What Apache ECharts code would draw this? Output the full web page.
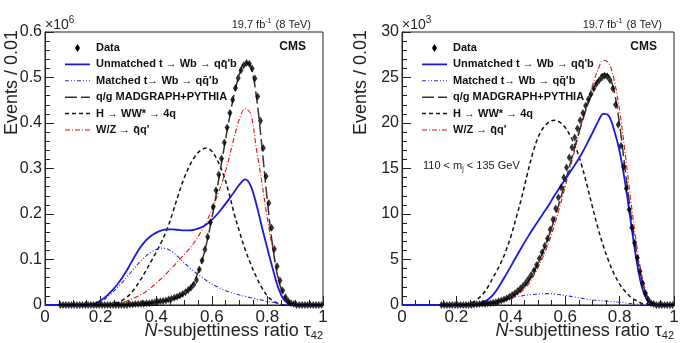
<!DOCTYPE html>
<html>
<head>
<meta charset="utf-8">
<script src="https://cdn.jsdelivr.net/npm/echarts@6/dist/echarts.min.js"></script>
<style>
  html, body { margin: 0; padding: 0; background: #fff; }
  #chart { width: 682px; height: 343px; }
</style>
</head>
<body>
<div id="chart"></div>
<script>
// ---- values ----
// data: one value per 0.01 bin (null = bin not drawn)
// curves: one value every 0.02 in tau (0 .. 1)

// left panel, x10^6
var dataL = [
  null, null, null, null, null, 0, 0, 0, 0, 0,
  0, 0, 0, 0, 0, 0, 0, 0, 0, 0,
  0, 0, 0, 0, 0, 0, 0, 0, 0, 0,
  0.001, 0.001, 0.002, 0.002, 0.003, 0.003, 0.004, 0.004, 0.005, 0.006,
  0.007, 0.008, 0.009, 0.010, 0.012, 0.014, 0.016, 0.018, 0.021, 0.024,
  0.028, 0.033, 0.038, 0.045, 0.055, 0.078, 0.098, 0.122, 0.150, 0.182,
  0.216, 0.252, 0.287, 0.322, 0.357, 0.390, 0.422, 0.451, 0.477, 0.499,
  0.516, 0.527, 0.532, 0.530, 0.520, 0.498, 0.458, 0.405, 0.345, 0.283,
  0.224, 0.170, 0.123, 0.085, 0.054, 0.032, 0.017, 0.008, 0.004, 0.002,
  0, 0, 0, 0, 0, 0, 0, 0, 0, 0
];
var unmatchedL = [
  0, 0, 0, 0, 0, 0, 0, 0, 0.001, 0.003,
  0.010, 0.019, 0.031, 0.045, 0.062, 0.082, 0.104, 0.124, 0.140, 0.151,
  0.159, 0.164, 0.166, 0.166, 0.165, 0.164, 0.164, 0.166, 0.170, 0.177,
  0.187, 0.200, 0.215, 0.231, 0.248, 0.265, 0.276, 0.262, 0.222, 0.172,
  0.124, 0.078, 0.036, 0.011, 0.002, 0, 0, 0, 0, 0, 0
];
var matchedL = [
  0, 0, 0, 0, 0, 0, 0, 0, 0, 0.002,
  0.007, 0.015, 0.026, 0.038, 0.051, 0.065, 0.080, 0.094, 0.106, 0.116,
  0.122, 0.125, 0.123, 0.116, 0.105, 0.093, 0.082, 0.072, 0.063, 0.054,
  0.046, 0.040, 0.034, 0.029, 0.025, 0.022, 0.019, 0.016, 0.013, 0.011,
  0.008, 0.006, 0.003, 0.001, 0, 0, 0, 0, 0, 0, 0
];
var qgL = [
  0, 0, 0, 0, 0, 0, 0, 0, 0, 0,
  0, 0, 0, 0, 0, 0.001, 0.002, 0.003, 0.004, 0.005,
  0.006, 0.008, 0.010, 0.013, 0.017, 0.024, 0.036, 0.056, 0.088, 0.132,
  0.190, 0.258, 0.330, 0.400, 0.462, 0.508, 0.534, 0.524, 0.460, 0.350,
  0.228, 0.125, 0.055, 0.020, 0.006, 0.001, 0, 0, 0, 0, 0
];
var hwwL = [
  0, 0, 0, 0, 0, 0, 0, 0, 0, 0,
  0, 0, 0.002, 0.005, 0.011, 0.020, 0.034, 0.052, 0.072, 0.094,
  0.116, 0.140, 0.168, 0.204, 0.243, 0.278, 0.306, 0.327, 0.340, 0.345,
  0.338, 0.318, 0.290, 0.250, 0.202, 0.160, 0.122, 0.090, 0.062, 0.038,
  0.020, 0.009, 0.003, 0, 0, 0, 0, 0, 0, 0, 0
];
var wzL = [
  0, 0, 0, 0, 0, 0, 0, 0, 0, 0,
  0, 0, 0, 0.003, 0.006, 0.010, 0.015, 0.021, 0.028, 0.037,
  0.048, 0.059, 0.071, 0.084, 0.097, 0.110, 0.124, 0.140, 0.160, 0.182,
  0.210, 0.240, 0.275, 0.318, 0.367, 0.410, 0.432, 0.420, 0.345, 0.270,
  0.190, 0.120, 0.058, 0.022, 0.008, 0.002, 0, 0, 0, 0, 0
];

// right panel, x10^3, 110 < mj < 135 GeV
var dataR = [
  null, null, null, null, null, null, null, null, null, null,
  null, null, null, null, 0, 0, 0, 0, 0, 0,
  0, 0, 0, 0, 0, 0, 0.05, 0.08, 0.1, 0.13,
  0.15, 0.18, 0.2, 0.25, 0.3, 0.4, 0.5, 0.6, 0.75, 0.9,
  1.1, 1.3, 1.55, 1.8, 2.1, 2.45, 2.85, 3.3, 3.8, 4.4,
  5.1, 5.8, 6.5, 7.3, 8.3, 9.4, 10.6, 11.8, 12.9, 14.0,
  15.1, 16.2, 17.3, 18.4, 19.4, 20.3, 21.1, 21.9, 22.6, 23.2,
  23.8, 24.3, 24.7, 25.0, 25.2, 25.1, 24.7, 23.8, 22.0, 19.8,
  17.5, 15.2, 12.8, 10.5, 8.5, 6.8, 5.2, 3.7, 2.4, 1.3,
  0.6, 0.2, 0.1, 0, 0, 0, 0, 0, 0, 0
];
var unmatchedR = [
  0, 0, 0, 0, 0, 0, 0, 0, 0, 0,
  0, 0, 0, 0, 0.1, 0.3, 0.7, 1.3, 2.2, 3.2,
  4.25, 5.3, 6.35, 7.35, 8.3, 9.2, 10.1, 11.0, 12.0, 12.9,
  13.8, 14.7, 15.6, 16.6, 17.7, 18.9, 20.1, 21.0, 20.8, 19.2,
  16.9, 13.5, 9.4, 5.3, 2.2, 0.6, 0.1, 0, 0, 0, 0
];
var matchedR = [
  0, 0, 0, 0, 0, 0, 0, 0, 0, 0,
  0, 0, 0, 0.05, 0.1, 0.15, 0.25, 0.35, 0.5, 0.6,
  0.75, 0.9, 1.0, 1.1, 1.15, 1.2, 1.25, 1.25, 1.2, 1.15,
  1.05, 0.95, 0.85, 0.75, 0.65, 0.55, 0.5, 0.45, 0.4, 0.35,
  0.3, 0.25, 0.15, 0.1, 0.05, 0, 0, 0, 0, 0, 0
];
var qgR = [
  0, 0, 0, 0, 0, 0, 0, 0, 0, 0,
  0, 0, 0, 0, 0.05, 0.1, 0.2, 0.3, 0.4, 0.6,
  0.9, 1.2, 1.7, 2.4, 3.4, 4.6, 6.0, 7.6, 9.4, 11.4,
  13.5, 15.7, 17.9, 19.9, 21.8, 23.4, 24.7, 25.4, 25.2, 23.5,
  19.8, 15.0, 10.3, 6.2, 3.0, 1.0, 0.3, 0, 0, 0, 0
];
var hwwR = [
  0, 0, 0, 0, 0, 0, 0, 0, 0, 0,
  0, 0.05, 0.1, 0.3, 0.7, 1.3, 2.2, 3.3, 4.4, 5.8,
  7.5, 9.6, 11.8, 14.3, 16.6, 18.4, 19.5, 20.1, 20.3, 20.1,
  19.5, 18.5, 17.2, 15.4, 13.2, 10.8, 8.5, 6.5, 4.8, 3.4,
  2.3, 1.5, 0.9, 0.5, 0.2, 0.1, 0, 0, 0, 0, 0
];
var wzR = [
  0, 0, 0, 0, 0, 0, 0, 0, 0, 0,
  0, 0, 0, 0, 0.05, 0.1, 0.15, 0.2, 0.3, 0.5,
  0.7, 1.0, 1.5, 2.1, 3.0, 4.1, 5.4, 6.9, 8.7, 10.8,
  13.0, 15.3, 17.6, 19.9, 22.1, 24.1, 25.8, 26.9, 26.6, 24.7,
  21.4, 16.8, 11.8, 7.2, 3.5, 1.1, 0.2, 0, 0, 0, 0
];

var xTicks = [0, 0.2, 0.4, 0.6, 0.8, 1];
var yTicksL = [0, 0.1, 0.2, 0.3, 0.4, 0.5, 0.6];
var yTicksR = [0, 5, 10, 15, 20, 25, 30];

var names = {
  data: 'Data',
  unmatched: 'Unmatched t \u2192 Wb \u2192 qq\u0304\'b',
  matched: 'Matched t\u2192 Wb \u2192 qq\u0304\'b',
  qg: 'q/g MADGRAPH+PYTHIA',
  hww: 'H \u2192 WW* \u2192 4q',
  wz: 'W/Z \u2192 q\u0304q\''
};

// ---- styles ----
var FONT = '"Liberation Sans", Arial, Helvetica, sans-serif';
var styles = {
  unmatched: { color: '#1a1ad8', width: 1.8, type: 'solid' },
  matched: { color: '#2a2ae0', width: 1.1, type: [4, 2, 1, 2, 1, 2] },
  qg: { color: '#333333', width: 1.5, type: [12, 4] },
  hww: { color: '#111111', width: 1.5, type: [4, 3] },
  wz: { color: '#e01010', width: 1.1, type: [5, 2, 1, 2] }
};

function curve(vals) {
  return vals.map(function (v, i) { return [i * 0.02, v]; });
}
function bins(vals) {
  var out = [];
  vals.forEach(function (v, i) { if (v !== null) out.push([i * 0.01 + 0.005, v]); });
  return out;
}

var myChart = echarts.init(document.getElementById('chart'));

var panels = [
  { left: 45, width: 278, max: 0.6, step: 0.1, ticks: yTicksL, titleX: 12,
    u: unmatchedL, m: matchedL, q: qgL, h: hwwL, w: wzL, d: dataL },
  { left: 402, width: 272, max: 30, step: 5, ticks: yTicksR, titleX: 361,
    u: unmatchedR, m: matchedR, q: qgR, h: hwwR, w: wzR, d: dataR }
];

var grids = [], xAxes = [], yAxes = [], series = [], graphics = [];

panels.forEach(function (p, k) {
  grids.push({ left: p.left, top: 32, width: p.width, height: 273,
    show: true, borderColor: '#222', borderWidth: 1, backgroundColor: 'transparent' });
  xAxes.push({
    gridIndex: k, type: 'value', min: 0, max: 1, interval: 0.2,
    axisLine: { show: true, lineStyle: { color: '#222' } },
    axisTick: { inside: true, length: 9, lineStyle: { color: '#222' } },
    minorTick: { show: true, splitNumber: 4, length: 5, lineStyle: { color: '#222' } },
    splitLine: { show: false },
    axisLabel: { fontSize: 17, fontFamily: FONT, color: '#222', margin: 4,
      formatter: function (v) { return String(+v.toFixed(1)); } }
  });
  yAxes.push({
    gridIndex: k, type: 'value', min: 0, max: p.max, interval: p.step,
    axisLine: { show: true, lineStyle: { color: '#222' } },
    axisTick: { inside: true, length: 9, lineStyle: { color: '#222' } },
    minorTick: { show: true, splitNumber: 5, length: 5, lineStyle: { color: '#222' } },
    splitLine: { show: false },
    axisLabel: { fontSize: 16, fontFamily: FONT, color: '#222', margin: 3,
      formatter: function (v) { return String(+v.toFixed(1)); } }
  });

  var lines = [['hww', p.h], ['wz', p.w], ['qg', p.q], ['matched', p.m], ['unmatched', p.u]];
  lines.forEach(function (l) {
    series.push({
      name: names[l[0]], type: 'line', xAxisIndex: k, yAxisIndex: k,
      data: curve(l[1]), showSymbol: false, symbol: 'none', smooth: 0.35,
      lineStyle: styles[l[0]], silent: true
    });
  });
  series.push({
    name: names.data, type: 'scatter', xAxisIndex: k, yAxisIndex: k,
    data: bins(p.d), symbol: 'diamond', symbolSize: [5, 8],
    itemStyle: { color: '#000' }, silent: true, z: 5
  });

  // legend drawn by hand
  var lx = p.left + 20, ly = 48, dy = 16.4;
  var order = ['data', 'unmatched', 'matched', 'qg', 'hww', 'wz'];
  order.forEach(function (key, j) {
    var y = ly + j * dy;
    if (key === 'data') {
      var cx = lx + 12.5;
      graphics.push({ type: 'polygon', shape: { points: [[cx, y - 4], [cx + 2.5, y], [cx, y + 4], [cx - 2.5, y]] },
        style: { fill: '#000' } });
    } else {
      var st = styles[key];
      graphics.push({ type: 'line', shape: { x1: lx, y1: y, x2: lx + 25, y2: y },
        style: { stroke: st.color, lineWidth: st.width, lineDash: st.type === 'solid' ? null : st.type } });
    }
    graphics.push({ type: 'text', x: lx + 31, y: y,
      style: { text: names[key], font: 'bold 11px ' + FONT, fill: '#111', verticalAlign: 'middle' } });
  });

  var right = p.left + p.width;
  graphics.push({ type: 'text', x: right - 12, y: 25,
    style: { text: '19.7 fb{sup|-1} (8 TeV)', font: '11px ' + FONT, fill: '#222', align: 'right', verticalAlign: 'middle',
      rich: { sup: { fontSize: 7, fontFamily: FONT, padding: [0, 1, 7, 0] } } } });
  graphics.push({ type: 'text', x: right - 17, y: 47,
    style: { text: 'CMS', font: 'bold 12px ' + FONT, fill: '#111', align: 'right', verticalAlign: 'middle' } });
  graphics.push({ type: 'text', x: p.left, y: 25,
    style: { text: '\u00d710{sup|' + (k === 0 ? '6' : '3') + '}', font: '14px ' + FONT, fill: '#222', verticalAlign: 'middle',
      rich: { sup: { fontSize: 10, fontFamily: FONT, padding: [0, 0, 9, 0] } } } });
  graphics.push({ type: 'text', x: p.titleX, y: 30, rotation: Math.PI / 2,
    style: { text: 'Events / 0.01', font: '18px ' + FONT, fill: '#222', align: 'right', verticalAlign: 'middle' } });
  graphics.push({ type: 'text', x: right, y: 331,
    style: { text: '{i|N}-subjettiness ratio \u03c4{sub|42}', font: '18px ' + FONT, fill: '#222', align: 'right', verticalAlign: 'middle',
      rich: { i: { fontStyle: 'italic', fontSize: 18, fontFamily: FONT },
              sub: { fontSize: 11, fontFamily: FONT, padding: [10, 0, 0, 0] } } } });
});

graphics.push({ type: 'text', x: 423, y: 166,
  style: { text: '110 < m{sub|j} < 135 GeV', font: '11px ' + FONT, fill: '#222', verticalAlign: 'middle',
    rich: { sub: { fontSize: 7, fontFamily: FONT, padding: [6, 0, 0, 0] } } } });

myChart.setOption({
  animation: false,
  backgroundColor: '#fff',
  grid: grids,
  xAxis: xAxes,
  yAxis: yAxes,
  series: series,
  graphic: graphics
});
</script>
</body>
</html>
